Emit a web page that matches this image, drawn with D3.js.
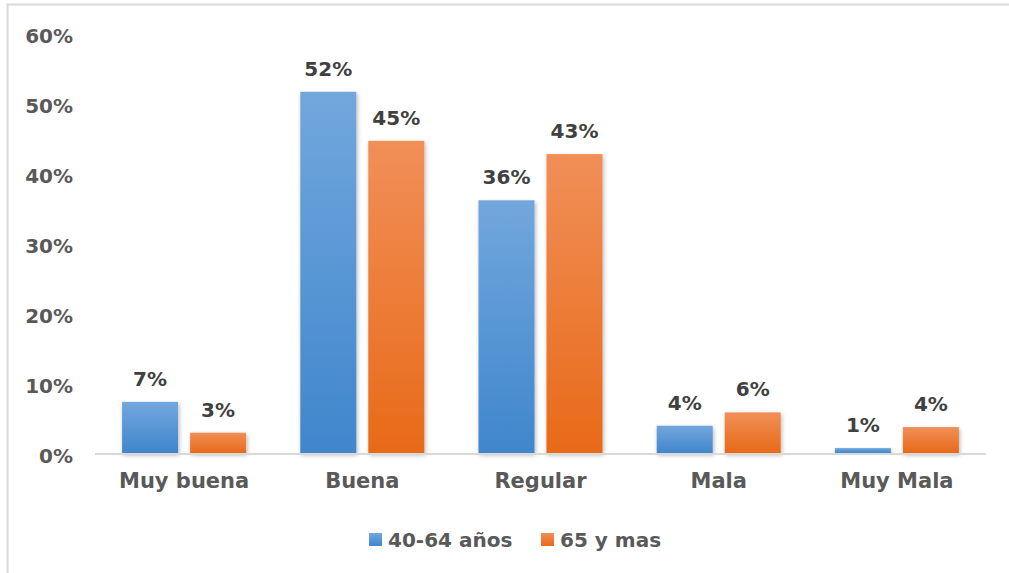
<!DOCTYPE html>
<html>
<head>
<meta charset="utf-8">
<script src="https://cdn.jsdelivr.net/npm/d3@7"></script>
<style>
  body { margin: 0; background: #fff; }
  svg text { font-family: "DejaVu Sans", sans-serif; font-weight: bold; }
</style>
</head>
<body>
<svg id="chart" width="1009" height="573"></svg>
<script>
// Chart data
const categories = ["Muy buena", "Buena", "Regular", "Mala", "Muy Mala"];
const seriesNames = ["40-64 años", "65 y mas"];
const jovenes = [7.3, 51.6, 36.1, 3.9, 0.7];   // 40-64 años
const mayores = [2.9, 44.6, 42.7, 5.8, 3.7];   // 65 y mas
const yTicks = [0, 10, 20, 30, 40, 50, 60];

const colors = {
    "40-64 años": ["#72a7dd", "#3f86cc"],
    "65 y mas": ["#f18f58", "#e86a18"]
};

const svg = d3.select("#chart");

// frame around the chart area
svg.append("rect")
    .attr("x", 7.5).attr("y", 4.5)
    .attr("width", 1020).attr("height", 600)
    .attr("fill", "none")
    .attr("stroke", "#d9d9d9")
    .attr("stroke-width", 2);

const defs = svg.append("defs");
seriesNames.forEach((s, i) => {
    const g = defs.append("linearGradient")
        .attr("id", "grad" + i)
        .attr("x1", 0).attr("y1", 0).attr("x2", 0).attr("y2", 1);
    g.append("stop").attr("offset", "0%").attr("stop-color", colors[s][0]);
    g.append("stop").attr("offset", "100%").attr("stop-color", colors[s][1]);
});
defs.append("filter").attr("id", "shadow")
    .attr("x", "-20%").attr("y", "-20%").attr("width", "140%").attr("height", "140%")
    .append("feDropShadow")
    .attr("dx", 1).attr("dy", 2).attr("stdDeviation", 2)
    .attr("flood-color", "#000").attr("flood-opacity", 0.3);

const x0 = d3.scaleBand()
    .domain(categories)
    .range([95, 986]);

const x1 = d3.scaleBand()
    .domain(seriesNames)
    .range([0, x0.bandwidth()])
    .paddingInner(0.1765)
    .paddingOuter(0.3985);

const y = d3.scaleLinear()
    .domain([0, 60])
    .range([453, 33]);

// y axis labels, no line
const yAxis = svg.append("g")
    .attr("transform", "translate(73,0)")
    .call(d3.axisLeft(y).tickValues(yTicks).tickSize(0).tickPadding(0).tickFormat(d => d + "%"));
yAxis.select(".domain").remove();
yAxis.selectAll("text")
    .attr("fill", "#595959")
    .attr("font-size", "20px")
    .attr("dy", "0.45em");

const rows = categories.map((c, i) => ({
    cat: c,
    vals: [
        { s: seriesNames[0], v: jovenes[i], idx: 0 },
        { s: seriesNames[1], v: mayores[i], idx: 1 }
    ]
}));

const groups = svg.selectAll(".grp")
    .data(rows)
    .enter()
    .append("g")
    .attr("class", "grp")
    .attr("transform", d => `translate(${x0(d.cat)},0)`);

groups.selectAll("rect")
    .data(d => d.vals)
    .enter()
    .append("rect")
    .attr("x", d => x1(d.s))
    .attr("y", d => y(d.v))
    .attr("width", x1.bandwidth())
    .attr("height", d => y(0) - y(d.v))
    .attr("fill", d => `url(#grad${d.idx})`)
    .attr("filter", "url(#shadow)");

groups.selectAll("text.val")
    .data(d => d.vals)
    .enter()
    .append("text")
    .attr("class", "val")
    .attr("x", d => x1(d.s) + x1.bandwidth() / 2)
    .attr("y", d => y(d.v) - 16)
    .attr("text-anchor", "middle")
    .attr("fill", "#404040")
    .attr("font-size", "20px")
    .text(d => Math.round(d.v) + "%");

// baseline
svg.append("line")
    .attr("x1", 95).attr("x2", 986)
    .attr("y1", y(0) + 1).attr("y2", y(0) + 1)
    .attr("stroke", "#d9d9d9")
    .attr("stroke-width", 2);

// category labels
const xAxis = svg.append("g")
    .attr("transform", `translate(0,${y(0)})`)
    .call(d3.axisBottom(x0).tickSize(0).tickPadding(0));
xAxis.select(".domain").remove();
xAxis.selectAll("text")
    .attr("fill", "#595959")
    .attr("font-size", "21px")
    .attr("dy", "1.65em");

// legend
const legendItems = [
    { s: seriesNames[0], x: 369, idx: 0 },
    { s: seriesNames[1], x: 541, idx: 1 }
];
const legend = svg.append("g");
legend.selectAll("rect")
    .data(legendItems)
    .enter()
    .append("rect")
    .attr("x", d => d.x)
    .attr("y", 533)
    .attr("width", 13).attr("height", 13)
    .attr("fill", d => `url(#grad${d.idx})`);
legend.selectAll("text")
    .data(legendItems)
    .enter()
    .append("text")
    .attr("x", d => d.x + 19)
    .attr("y", 547)
    .attr("fill", "#595959")
    .attr("font-size", "20px")
    .text(d => d.s);
</script>
</body>
</html>
